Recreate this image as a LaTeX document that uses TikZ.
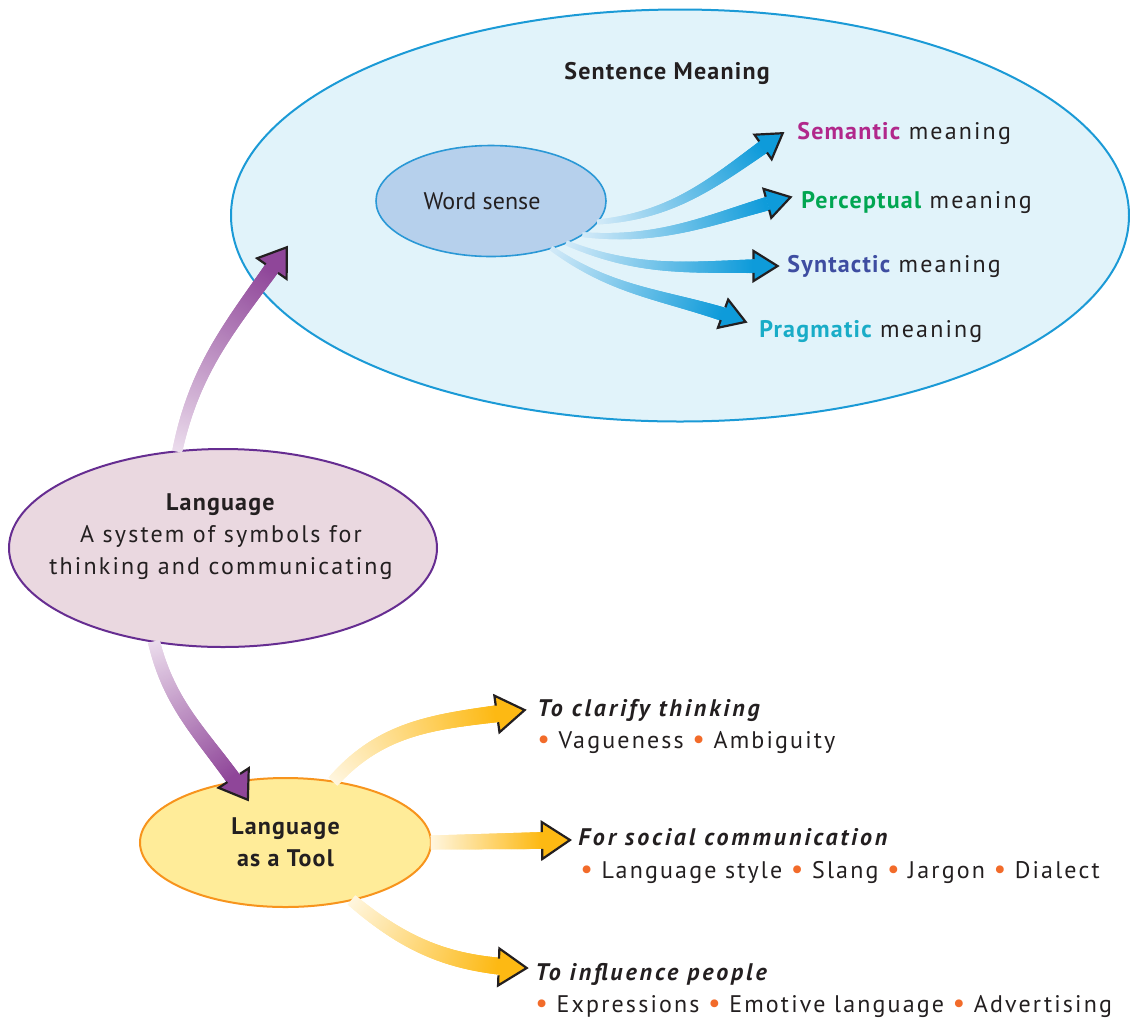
\documentclass[tikz,border=0pt]{standalone}
\usepackage{fontspec}
\setmainfont{PT Sans}[LetterSpace=9,
  BoldFeatures={LetterSpace=5},
  BoldItalicFeatures={LetterSpace=12}]
\newfontfamily\wordfont{PT Sans}
\usetikzlibrary{shapes.geometric,decorations.markings}

\definecolor{sentfill}{HTML}{E1F3FA}
\definecolor{sentline}{HTML}{1B9AD6}
\definecolor{wordfill}{HTML}{B6D0EC}
\definecolor{wordline}{HTML}{2A98D6}
\definecolor{langfill}{HTML}{EAD8E0}
\definecolor{langline}{HTML}{662D91}
\definecolor{toolfill}{HTML}{FFEC99}
\definecolor{toolline}{HTML}{F7941D}
\definecolor{ink}{HTML}{231F20}
\definecolor{bulc}{HTML}{F26B2A}
\definecolor{semc}{HTML}{B1288B}
\definecolor{perc}{HTML}{00A651}
\definecolor{sync}{HTML}{3E4DA1}
\definecolor{pragc}{HTML}{19ACC7}
\definecolor{purA}{HTML}{EBDCEC}
\definecolor{purB}{HTML}{8F4699}
\definecolor{bluA}{HTML}{D3EAF8}
\definecolor{bluB}{HTML}{0E9BDA}
\definecolor{yelA}{HTML}{FFF6DF}
\definecolor{yelB}{HTML}{FDB913}

\newcommand\tfont{\fontsize{12}{16}\selectfont}
\newcommand\listdot{\textcolor{bulc}{\fontsize{14}{16}\selectfont•}}

\tikzset{
  txt/.style={text=ink, inner sep=0pt, font=\tfont},
  head/.style={txt, font=\bfseries\itshape\tfont},
  bubble/.style={ellipse, draw, line width=1pt, inner sep=0pt, text=ink},
  % shaded tapering band along a path, ending in an outlined arrow head
  % #1 start colour, #2 end colour, #3/#4 start/end half width (pt),
  % #5 head length, #6 head half width
  flow/.style n args={6}{
    postaction={decorate},
    decoration={markings,
      mark=between positions 0 and -#5 step 0.6pt with {%
        \pgfmathsetmacro\flowp{min(100,100*\pgfkeysvalueof{/pgf/decoration/mark info/distance from start}/(\pgfdecoratedpathlength-#5))}%
        \pgfmathsetmacro\floww{#3+(#4-#3)*\flowp/100}%
        \colorlet{flowc}{#2!\flowp!#1}%
        \fill[flowc] (-0.7pt,-\floww pt) rectangle (0.7pt,\floww pt);
      },
      mark=at position 0.9999 with {%
        \fill[#2] (0,0) -- (-#5,#6) -- (-#5,-#6) -- cycle;
        \draw[ink, line width=1.1pt, line join=miter]
          (-#5,#4pt) -- (-#5,#6) -- (0,0) -- (-#5,-#6) -- (-#5,-#4pt);
      }}}
}

\begin{document}
\begin{tikzpicture}[x=0.5pt,y=0.5pt]
\useasboundingbox (0,0) rectangle (1130,-1019);

% ellipses
\node[bubble, draw=sentline, fill=sentfill, minimum width=449pt, minimum height=206pt] (sent) at (680,-215.5) {};
\node[bubble, draw=wordline, fill=wordfill, line width=0.8pt, minimum width=115pt, minimum height=55.5pt, font=\wordfont\tfont] (word) at (491,-201) {\hspace*{-9pt}Word sense};
\node[bubble, draw=langline, fill=langfill, minimum width=214pt, minimum height=99pt] (lang) at (223,-548) {};
\node[bubble, draw=toolline, fill=toolfill, minimum width=145.5pt, minimum height=64.5pt, font=\bfseries\tfont, align=center] (tool) at (285.5,-842.5) {Language\\as a Tool};

% word sense -> kinds of meaning
\coordinate (semtip) at (783,-133);
\coordinate (pertip) at (791,-197);
\coordinate (syntip) at (778,-266);
\coordinate (pragtip) at (746,-322);
\path[flow={bluA}{bluB}{1.2}{3.4}{12pt}{7.5pt}] (word.-11) to[out=5,in=215] (semtip);
\path[flow={bluA}{bluB}{1.2}{3.4}{12pt}{7.5pt}] (word.-20) to[out=-5,in=195] (pertip);
\path[flow={bluA}{bluB}{1.2}{3.4}{12pt}{7.5pt}] (word.-29) to[out=-22,in=180] (syntip);
\path[flow={bluA}{bluB}{1.2}{3.4}{12pt}{7.5pt}] (word.-38) to[out=-35,in=160] (pragtip);

% language as a tool -> uses
\coordinate (clartip) at (525,-710);
\coordinate (soctip) at (570,-840);
\coordinate (inftip) at (527,-968);
\path[flow={yelA}{yelB}{3}{4.2}{14pt}{9.25pt}] (tool.52) to[out=48,in=188] (clartip);
\path[flow={yelA}{yelB}{3.5}{4.2}{14pt}{9.25pt}] (tool.east) -- (soctip);
\path[flow={yelA}{yelB}{3}{4.2}{14pt}{9.25pt}] (tool.-41) to[out=-40,in=178] (inftip);

% language -> sentence meaning / tool
\coordinate (uptip) at (287,-247);
\coordinate (downtip) at (248,-800);
\path[flow={purA}{purB}{2.5}{3.75}{13pt}{9pt}] (lang.115) to[out=78,in=235] (uptip);
\path[flow={purA}{purB}{3}{3.75}{13pt}{9pt}] (lang.234) to[out=-76,in=123] (downtip);

% texts
\node[txt, font=\bfseries\tfont] (senttitle) at (667,-73) {Sentence Meaning};
\node[txt, anchor=base west] (sem) at (797,-139) {\textbf{\color{semc}Semantic} meaning};
\node[txt, anchor=base west] (per) at (801,-208) {\textbf{\color{perc}Perceptual} meaning};
\node[txt, anchor=base west] (syn) at (787,-272) {\textbf{\color{sync}Syntactic} meaning};
\node[txt, anchor=base west] (prag) at (759,-337) {\textbf{\color{pragc}Pragmatic} meaning};

\node[txt, align=center] (langtxt) at (221,-537) {\textbf{Language}\\A system of symbols for\\thinking and communicating};

\node[head, anchor=base west] (clar) at (537,-716) {To clarify thinking};
\node[txt, anchor=base west] (clarlist) at (537,-748) {\listdot\ Vagueness \listdot\ Ambiguity};
\node[head, anchor=base west] (soc) at (578,-845) {For social communication};
\node[txt, anchor=base west] (soclist) at (580,-878) {\listdot\ Language style \listdot\ Slang \listdot\ Jargon \listdot\ Dialect};
\node[head, anchor=base west] (inf) at (535,-980) {To influence people};
\node[txt, anchor=base west] (inflist) at (535,-1012) {\listdot\ Expressions \listdot\ Emotive language \listdot\ Advertising};
\end{tikzpicture}
\end{document}
